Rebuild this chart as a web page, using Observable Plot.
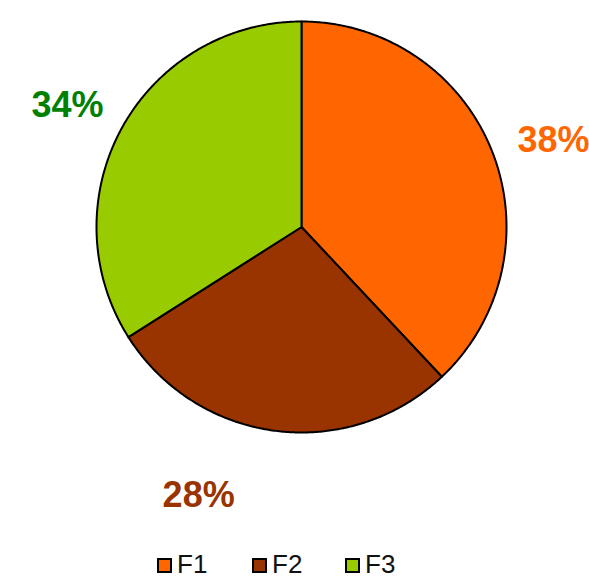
<!DOCTYPE html>
<html>
<head>
<meta charset="utf-8">
<script src="https://cdn.jsdelivr.net/npm/d3@7"></script>
<script src="https://cdn.jsdelivr.net/npm/@observablehq/plot@0.6"></script>
<style>
  body { margin: 0; background: #fff; font-family: "Liberation Sans", Arial, sans-serif; }
  #wrap { position: relative; width: 589px; height: 582px; }
  .leg { position: absolute; top: 549px; display: flex; align-items: center; font-size: 26px; color: #111; }
  .sw { width: 11px; height: 11px; border: 2px solid #000; margin-right: 5px; margin-top: 2px; }
</style>
</head>
<body>
<div id="wrap"></div>
<script>
// Data
const categories = ["F1", "F2", "F3"];
const values = [38, 28, 34];
const labels = ["38%", "28%", "34%"];
const colors = ["#FF6600", "#993300", "#99CC00"];
const labelColors = ["#FF6600", "#993300", "#008000"];

// Layout (label placement in polar terms, degrees clockwise from top, radius factor)
const labelAngle = [71, 201, 297.4];
const labelRadius = [1.3, 1.4, 1.286];

const total = d3.sum(values);
const pts = [];
let start = 0;
values.forEach((v, i) => {
  const end = start + v / total * 360;
  pts.push({cat: categories[i], x: 0, y: 0});
  const n = Math.ceil((end - start) / 0.5);
  for (let k = 0; k <= n; k++) {
    const a = start + (end - start) * k / n;
    const r = a * Math.PI / 180;
    pts.push({cat: categories[i], x: Math.sin(r), y: Math.cos(r)});
  }
  pts.push({cat: categories[i], x: 0, y: 0});
  start = end;
});

const labelData = categories.map((c, i) => {
  const r = labelAngle[i] * Math.PI / 180;
  return {cat: c, text: labels[i], x: labelRadius[i] * Math.sin(r), y: labelRadius[i] * Math.cos(r), color: labelColors[i]};
});

const chart = Plot.plot({
  width: 589,
  height: 540,
  marginLeft: 96,
  marginRight: 83,
  marginTop: 21,
  marginBottom: 108,
  x: {domain: [-1, 1], axis: null},
  y: {domain: [-1, 1], axis: null},
  color: {domain: categories, range: colors},
  style: {fontFamily: "'Liberation Sans', Arial, sans-serif", overflow: "visible"},
  marks: [
    Plot.line(pts, {x: "x", y: "y", z: "cat", fill: "cat", stroke: "#000", strokeWidth: 2, strokeLinejoin: "round", curve: "linear"}),
    Plot.text(labelData, {x: "x", y: "y", text: "text", fill: d => d.color, fontSize: 36, fontWeight: "bold"})
  ]
});
const wrap = document.getElementById("wrap");
wrap.appendChild(chart);

const legLeft = [157, 252, 345];
categories.forEach((c, i) => {
  const d = document.createElement("div");
  d.className = "leg";
  d.style.left = legLeft[i] + "px";
  d.innerHTML = `<div class="sw" style="background:${colors[i]}"></div><span>${c}</span>`;
  wrap.appendChild(d);
});
</script>
</body>
</html>
